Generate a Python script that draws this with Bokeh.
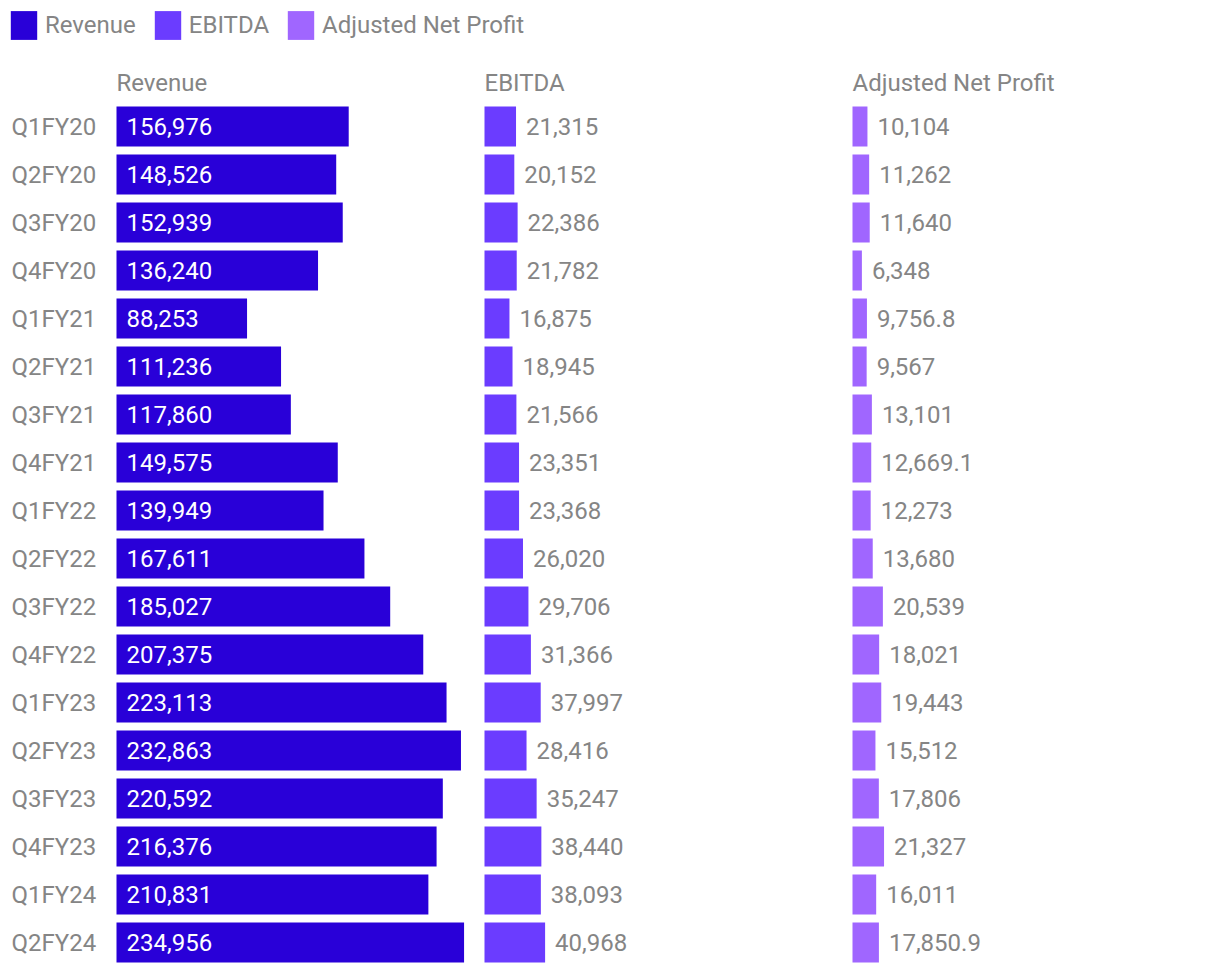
from bokeh.plotting import figure
from bokeh.models import Range1d, Legend, LegendItem, ColumnDataSource
from bokeh.core.properties import value
from bokeh.embed import file_html
from bokeh.resources import INLINE

quarters = ["Q1FY20", "Q2FY20", "Q3FY20", "Q4FY20", "Q1FY21", "Q2FY21", "Q3FY21", "Q4FY21",
            "Q1FY22", "Q2FY22", "Q3FY22", "Q4FY22", "Q1FY23", "Q2FY23", "Q3FY23", "Q4FY23",
            "Q1FY24", "Q2FY24"]
revenue = [156976, 148526, 152939, 136240, 88253, 111236, 117860, 149575, 139949, 167611,
           185027, 207375, 223113, 232863, 220592, 216376, 210831, 234956]
ebitda = [21315, 20152, 22386, 21782, 16875, 18945, 21566, 23351, 23368, 26020,
          29706, 31366, 37997, 28416, 35247, 38440, 38093, 40968]
adj_net_profit = [10104, 11262, 11640, 6348, 9756.8, 9567, 13101, 12669.1, 12273, 13680,
                  20539, 18021, 19443, 15512, 17806, 21327, 16011, 17850.9]
series_names = ["Revenue", "EBITDA", "Adjusted Net Profit"]
colors = ["#2900d8", "#6b3cff", "#a066ff"]

FONT = "Roboto"
FS = "24px"
GREY = "#858585"

W, H = 1220, 974
UPP = 676.0            # value units per pixel (shared scale)
LEFT_PAD = 116         # px from canvas left to revenue zero
PANEL_STEP = 368       # px between panel zero lines
ROW_PX = 48
TOP_PX = 102           # px above first band


def fmt(v):
    if float(v).is_integer():
        return "{:,}".format(int(v))
    return "{:,.1f}".format(v)


rows = list(range(len(quarters)))
top = -0.5 - TOP_PX / ROW_PX

p = figure(width=W, height=H, output_backend="svg", toolbar_location=None,
           x_axis_location=None, y_axis_location=None,
           min_border_left=0, min_border_right=0, min_border_top=0, min_border_bottom=0)
p.outline_line_color = None
p.xgrid.visible = False
p.ygrid.visible = False
p.background_fill_color = "white"
p.border_fill_color = "white"

p.y_range = Range1d(top + H / ROW_PX, top)

range_names = ["rev", "ebitda", "anp"]
p.x_range = Range1d(-LEFT_PAD * UPP, (W - LEFT_PAD) * UPP)
p.extra_x_ranges = {}
for k, nm in enumerate(range_names[1:], start=1):
    off = LEFT_PAD + k * PANEL_STEP
    p.extra_x_ranges[nm] = Range1d(-off * UPP, (W - off) * UPP)

all_vals = [revenue, ebitda, adj_net_profit]
legend_items = []
for k, (vals, col, name) in enumerate(zip(all_vals, colors, series_names)):
    kw = {} if k == 0 else {"x_range_name": range_names[k]}
    src = ColumnDataSource(dict(y=rows, v=vals, lab=[fmt(v) for v in vals],
                                zero=[0] * len(vals)))
    r = p.hbar(y="y", left="zero", right="v", height=40 / 48, fill_color=col,
               line_color=None, source=src, **kw)
    legend_items.append(LegendItem(label=name, renderers=[r]))
    if k == 0:
        p.text(x="zero", y="y", text="lab", source=src, x_offset=10,
               text_color="white", text_font=value(FONT), text_font_size=FS,
               text_baseline="middle", text_align="left", **kw)
    else:
        p.text(x="v", y="y", text="lab", source=src, x_offset=10,
               text_color=GREY, text_font=value(FONT), text_font_size=FS,
               text_baseline="middle", text_align="left", **kw)
    # panel title
    tsrc = ColumnDataSource(dict(x=[0], y=[-44 / ROW_PX], t=[name]))
    p.text(x="x", y="y", text="t", source=tsrc, x_offset=0, text_color=GREY,
           text_font=value(FONT), text_font_size=FS, text_baseline="middle",
           text_align="left", **kw)

# category labels
csrc = ColumnDataSource(dict(y=rows, q=quarters, zero=[0] * len(rows)))
p.text(x="zero", y="y", text="q", source=csrc, x_offset=-105, text_color=GREY,
       text_font=value(FONT), text_font_size=FS, text_baseline="middle", text_align="left")

legend = Legend(items=legend_items, orientation="horizontal", location="top_left",
                margin=7, padding=7, spacing=15, label_standoff=5,
                glyph_width=33, glyph_height=36,
                label_text_font=FONT, label_text_font_size=FS, label_text_color=GREY,
                border_line_color=None, background_fill_alpha=0)
p.add_layout(legend, "center")

open("out.html", "w").write(file_html(p, INLINE))
